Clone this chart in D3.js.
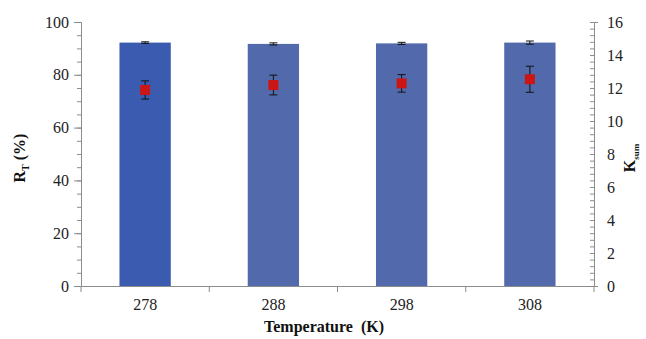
<!DOCTYPE html>
<html>
<head>
<meta charset="utf-8">
<script src="https://cdn.jsdelivr.net/npm/d3@7"></script>
<style>
  body { margin: 0; background: #fff; }
  svg text { font-family: 'Liberation Serif', 'Times New Roman', serif !important; }
</style>
</head>
<body>
<script>
const temperatures = ['278', '288', '298', '308']
const removal = [92.2, 91.7, 91.9, 92.2]
const removalErr = [0.3, 0.4, 0.4, 0.6]
const kValues = [11.88, 12.18, 12.28, 12.53]
const kErr = [0.55, 0.6, 0.53, 0.79]
const leftTicks = [0, 20, 40, 60, 80, 100]
const rightTicks = [0, 2, 4, 6, 8, 10, 12, 14, 16]

const width = 646
const height = 339
const plotLeft = 81
const plotRight = 594
const plotTop = 22
const plotBottom = 286

const svg = d3.select('body').append('svg').attr('width', width).attr('height', height)

const xScale = d3.scaleBand().domain(temperatures).range([plotLeft, plotRight]).paddingInner(0.6).paddingOuter(0.3)
const xAxisScale = d3.scaleBand().domain(temperatures).range([plotLeft, plotRight])
const yLeft = d3.scaleLinear().domain([0, 100]).range([plotBottom, plotTop])
const yRight = d3.scaleLinear().domain([0, 16]).range([plotBottom, plotTop])

// bars
svg.selectAll('.bar').data(removal).enter().append('rect')
    .attr('x', (d, i) => xScale(temperatures[i]))
    .attr('y', d => yLeft(d))
    .attr('width', xScale.bandwidth())
    .attr('height', d => plotBottom - yLeft(d))
    .attr('fill', (d, i) => i === 0 ? '#3b5bb0' : '#5269ac')

// bar error bars
const cx = i => xAxisScale(temperatures[i]) + xAxisScale.bandwidth() / 2
const barErr = svg.append('g').attr('stroke', '#111').attr('stroke-width', 1)
removal.forEach((d, i) => {
    barErr.append('line').attr('x1', cx(i)).attr('x2', cx(i)).attr('y1', yLeft(d + removalErr[i])).attr('y2', yLeft(d - removalErr[i]))
    barErr.append('line').attr('x1', cx(i) - 4).attr('x2', cx(i) + 4).attr('y1', yLeft(d + removalErr[i])).attr('y2', yLeft(d + removalErr[i]))
    barErr.append('line').attr('x1', cx(i) - 4).attr('x2', cx(i) + 4).attr('y1', yLeft(d - removalErr[i])).attr('y2', yLeft(d - removalErr[i]))
})

// K error bars and markers
const kG = svg.append('g')
kValues.forEach((d, i) => {
    const x = cx(i)
    const y1 = yRight(d + kErr[i])
    const y2 = yRight(d - kErr[i])
    kG.append('line').attr('x1', x).attr('x2', x).attr('y1', y1).attr('y2', y2).attr('stroke', '#111')
    kG.append('line').attr('x1', x - 4).attr('x2', x + 4).attr('y1', y1).attr('y2', y1).attr('stroke', '#111')
    kG.append('line').attr('x1', x - 4).attr('x2', x + 4).attr('y1', y2).attr('y2', y2).attr('stroke', '#111')
    kG.append('rect').attr('x', x - 5).attr('y', yRight(d) - 5).attr('width', 10).attr('height', 10).attr('fill', '#cc1515')
})

// axes
const axisColor = '#8c8c8c'
const styleAxis = g => {
    g.selectAll('.domain').attr('stroke', axisColor)
    g.selectAll('.tick line').attr('stroke', axisColor)
    g.selectAll('.tick text').attr('fill', '#222').attr('font-size', 16)
}

const minorLeft = d3.range(0, 101, 5)
svg.append('g').attr('transform', `translate(${plotLeft},0)`)
    .call(d3.axisLeft(yLeft).tickValues(minorLeft).tickSize(4).tickFormat(''))
    .call(styleAxis)
svg.append('g').attr('transform', `translate(${plotLeft},0)`)
    .call(d3.axisLeft(yLeft).tickValues(leftTicks).tickSize(7).tickSizeOuter(0).tickPadding(5))
    .call(styleAxis)

const minorRight = d3.range(0, 16.01, 0.4)
svg.append('g').attr('transform', `translate(${plotRight},0)`)
    .call(d3.axisRight(yRight).tickValues(minorRight).tickSize(4).tickFormat(''))
    .call(g => g.selectAll('.tick line').attr('transform', 'translate(-4,0)'))
    .call(styleAxis)
svg.append('g').attr('transform', `translate(${plotRight},0)`)
    .call(d3.axisRight(yRight).tickValues(rightTicks).tickSize(4).tickSizeOuter(0).tickPadding(9))
    .call(g => g.selectAll('.tick line').attr('transform', 'translate(-4,0)'))
    .call(styleAxis)

svg.append('g').attr('transform', `translate(0,${plotBottom})`)
    .call(d3.axisBottom(xAxisScale).tickSize(0).tickSizeOuter(0).tickPadding(13))
    .call(styleAxis)
// category separator ticks
svg.append('g').selectAll('line').data(d3.range(temperatures.length + 1)).enter().append('line')
    .attr('x1', i => plotLeft + i * xAxisScale.step()).attr('x2', i => plotLeft + i * xAxisScale.step())
    .attr('y1', plotBottom).attr('y2', plotBottom + 6).attr('stroke', axisColor)

// titles
svg.append('text').attr('x', 324).attr('y', 332).attr('text-anchor', 'middle')
    .attr('font-size', 16).attr('font-weight', 'bold').attr('fill', '#111')
    .attr('xml:space', 'preserve')
    .text('Temperature  (K)')

const lt = svg.append('text').attr('transform', 'translate(25,158) rotate(-90)')
    .attr('text-anchor', 'middle').attr('font-size', 16).attr('font-weight', 'bold').attr('fill', '#111')
lt.append('tspan').text('R')
lt.append('tspan').text('T').attr('font-size', 10).attr('dy', 4)
lt.append('tspan').text(' (%)').attr('dy', -4)

const rt = svg.append('text').attr('transform', 'translate(635,158) rotate(-90)')
    .attr('text-anchor', 'middle').attr('font-size', 16).attr('font-weight', 'bold').attr('fill', '#111')
rt.append('tspan').text('K')
rt.append('tspan').text('sum').attr('font-size', 9).attr('dy', 4)
</script>
</body>
</html>
